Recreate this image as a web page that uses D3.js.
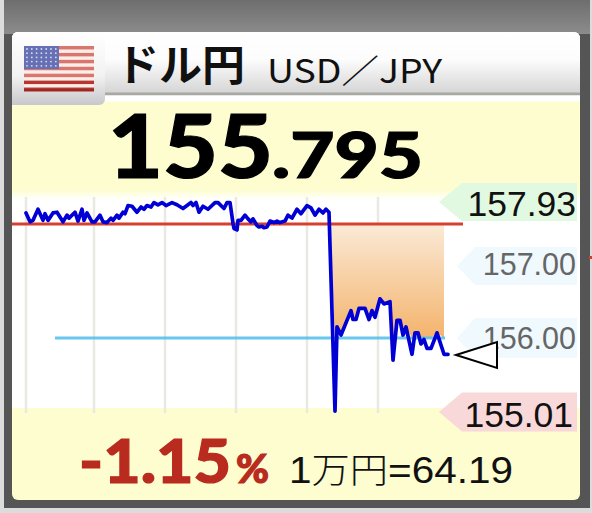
<!DOCTYPE html>
<html><head><meta charset="utf-8">
<style>html,body{margin:0;padding:0;background:#ddd}svg{display:block}</style>
<script src="https://cdn.jsdelivr.net/npm/d3@7"></script></head>
<body><svg id="c" width="592" height="513"></svg>
<script>
// elapsed time (chart units) and USD/JPY price
const times=[0,4,7,12,17,19,22,27,31,37,41,43,49,52,56,58,61,66,69,74,77,81,85,87,91,93,97,99,102,106,111,115,118,121,125,128,132,136,140,146,151,157,165,167,170,173,177,182,189,192,198,201,204,207,208,211,212,215,219,222,225,227,231,233,236,238,241,244,248,251,254,259,262,266,271,275,281,285,289,293,297,300,303,309,311,315,325,327,330,333,339,343,346,349,354,358,364,367,371,374,377,380,386,389,392,395,398,401,405,411,418,422];
const prices=[157.69,157.57,157.59,157.74,157.59,157.68,157.59,157.69,157.70,157.57,157.66,157.62,157.70,157.58,157.74,157.59,157.69,157.57,157.57,157.66,157.57,157.56,157.62,157.59,157.66,157.62,157.70,157.68,157.79,157.78,157.70,157.77,157.74,157.79,157.77,157.83,157.80,157.83,157.79,157.83,157.80,157.75,157.83,157.79,157.83,157.70,157.78,157.74,157.83,157.83,157.75,157.83,157.83,157.55,157.48,157.46,157.59,157.59,157.66,157.61,157.57,157.61,157.52,157.50,157.51,157.49,157.50,157.58,157.56,157.58,157.56,157.58,157.66,157.62,157.74,157.68,157.79,157.76,157.66,157.74,157.69,157.74,157.70,155.01,156.15,156.04,156.37,156.25,156.25,156.40,156.40,156.25,156.37,156.28,156.53,156.46,156.49,155.70,156.24,156.24,156.04,156.15,155.78,156.07,156.07,155.92,155.98,155.86,155.86,156.07,155.78,155.78];
const gridTimes=[0,68,139,210,281,352];
const prevClose=157.54, refLevel=156.00, shadeFrom=303, shadeTo=418;
const levelLabels=["157.93","157.00","156.00","155.01"];
const levelValues=[157.93,157.00,156.00,155.01];
const lastPrice="155.795", changePct="-1.15", perMan="64.19";

const svg=d3.select("#c"), defs=svg.append("defs");
const x=d3.scaleLinear().domain([0,422]).range([26,448]);
const y=d3.scaleLinear().domain([155,158]).range([412,190]);
const sans="'Liberation Sans',Arial,sans-serif", jp="'Noto Sans CJK JP',sans-serif", lato="Lato,sans-serif";
function grad(id,stops){const g=defs.append("linearGradient").attr("id",id).attr("x1",0).attr("y1",0).attr("x2",0).attr("y2",1);
 stops.forEach(s=>g.append("stop").attr("offset",s[0]).attr("stop-color",s[1]));}
grad("frame",[[0,"#6e6e6e"],[1,"#8c8c8c"]]);
grad("head",[[0,"#fff"],[.45,"#fcfcfc"],[1,"#d4d4d4"]]);
grad("tab",[[0,"#fff"],[.6,"#f2f2f2"],[1,"#c8c8cc"]]);
grad("whiteTop",[[0,"#fdfdd0"],[1,"#fff"]]);
grad("orange",[[0,"#fbf0e2"],[1,"#f4b36c"]]);

// frame
svg.append("rect").attr("width",592).attr("height",513).attr("fill","#dcdcdc");
svg.append("rect").attr("x",4).attr("width",586).attr("height",508).attr("fill","#555");
svg.append("rect").attr("x",4).attr("width",586).attr("height",34).attr("fill","url(#frame)");
svg.append("rect").attr("x",589).attr("y",256).attr("width",3).attr("height",3).attr("fill","#d04030");
// card
svg.append("rect").attr("x",12).attr("y",32).attr("width",568).attr("height",468).attr("rx",6).attr("fill","#fdfdd0");
svg.append("path").attr("d","M12 94V38a6 6 0 0 1 6-6H574a6 6 0 0 1 6 6V94Z").attr("fill","url(#head)");
svg.append("rect").attr("x",105).attr("y",92.5).attr("width",475).attr("height",3).attr("fill","#a8a8a8");
svg.append("rect").attr("x",105).attr("y",95.5).attr("width",475).attr("height",6).attr("fill","#fff");
svg.append("path").attr("d","M12 38a6 6 0 0 1 6-6H105V99a6 6 0 0 1-6 6H12Z").attr("fill","url(#tab)");
// flag
const fx=24,fy=46,fw=70,fh=45,sh=fh/13;
svg.append("rect").attr("x",fx).attr("y",fy).attr("width",fw).attr("height",fh).attr("rx",2).attr("fill","#fbeee8");
d3.range(0,13,2).forEach(i=>svg.append("rect").attr("x",fx).attr("y",fy+i*sh).attr("width",fw).attr("height",sh).attr("fill",i>9?"#b5372f":"#d9776e"));
svg.append("rect").attr("x",fx).attr("y",fy).attr("width",35).attr("height",23).attr("fill","#6670b4");
d3.range(5).forEach(r=>d3.range(7).forEach(c=>svg.append("circle").attr("cx",fx+3+c*4.8).attr("cy",fy+3+r*4.2).attr("r",.9).attr("fill","#d8dbf0")));
svg.append("rect").attr("x",fx).attr("y",fy+fh-2).attr("width",fw).attr("height",2.5).attr("fill","#9c2a24");
// titles
svg.append("text").attr("x",116).attr("y",81).attr("font-family",jp).attr("font-weight",700).attr("font-size",43).attr("fill","#111").text("ドル円");
svg.append("text").attr("x",267).attr("y",83).attr("font-family",jp).attr("font-size",33).attr("textLength",175).attr("lengthAdjust","spacingAndGlyphs").attr("fill","#111").text("USD／JPY");
// price
const bigText=(s,xp,yp,fsz,len,col)=>svg.append("text").attr("x",xp).attr("y",yp).attr("font-family",lato).attr("font-weight",900).attr("font-size",fsz).attr("textLength",len).attr("lengthAdjust","spacingAndGlyphs").attr("fill",col).attr("stroke",col).attr("stroke-width",1.2).text(s);
bigText(lastPrice.slice(0,3),108,178,88,165,"#000");
bigText(lastPrice.slice(3),272,178,62,151,"#000");
// chart background
svg.append("rect").attr("x",12).attr("y",190).attr("width",568).attr("height",10).attr("fill","url(#whiteTop)");
svg.append("rect").attr("x",12).attr("y",200).attr("width",568).attr("height",208).attr("fill","#fff");
// grid
svg.append("g").selectAll("line").data(gridTimes).join("line").attr("x1",d=>x(d)).attr("x2",d=>x(d)).attr("y1",197).attr("y2",413).attr("stroke","#e9e9e2").attr("stroke-width",2.5);
// shaded area
const shade=times.map((t,i)=>[t,prices[i]]).filter(d=>d[0]>=shadeFrom&&d[0]<=shadeTo);
svg.append("path").datum(shade).attr("fill","url(#orange)")
 .attr("d",d3.area().x(d=>x(d[0])).y0(y(prevClose)).y1(d=>y(Math.max(d[1],refLevel)))(shade));
// label tags
const tagFill=["#e0f9e0","#eff9fe","#eff9fe","#f8d8d8"], tagTip=[439,457,457,439], tagCorner=[462,475,475,462];
const tagY=[202,266,338,412], tagHalf=[19,19,20,19.5], base=[216,275,349,427], fs=[35.5,30.5,30.5,35.5], tc=["#111","#666","#666","#111"];
levelLabels.forEach((s,i)=>{
 svg.append("path").attr("d",`M${tagTip[i]} ${tagY[i]}L${tagCorner[i]} ${tagY[i]-tagHalf[i]}H577V${tagY[i]+tagHalf[i]}H${tagCorner[i]}Z`).attr("fill",tagFill[i]);
 svg.append("text").attr("x",i==3?573:576).attr("y",base[i]).attr("text-anchor","end").attr("font-family",sans).attr("font-size",fs[i]).attr("fill",tc[i]).text(s);
});
// ref lines
svg.append("line").attr("x1",55).attr("x2",445).attr("y1",y(refLevel)).attr("y2",y(refLevel)).attr("stroke","#4fbdea").attr("stroke-opacity",.85).attr("stroke-width",3);
svg.append("line").attr("x1",12).attr("x2",463).attr("y1",y(prevClose)).attr("y2",y(prevClose)).attr("stroke","#d5402f").attr("stroke-width",3);
// price line
svg.append("path").attr("fill","none").attr("stroke","#0000d4").attr("stroke-width",3.7).attr("stroke-linejoin","round").attr("stroke-linecap","round")
 .attr("d",d3.line().x((d,i)=>x(times[i])).y(d=>y(d))(prices));
// marker
svg.append("path").attr("d","M456 355L497 342V368Z").attr("fill","#fff").attr("stroke","#000").attr("stroke-width",2);
// bottom text
bigText(changePct,79,483,60,152,"#b92b1f");
bigText("%",236,483,40,33,"#b92b1f");
const rt=svg.append("text").attr("x",289).attr("y",483).attr("font-size",37).attr("fill","#111").attr("textLength",224).attr("lengthAdjust","spacingAndGlyphs");
rt.append("tspan").attr("font-family",sans).text("1");
rt.append("tspan").attr("font-family",jp).attr("font-weight",300).attr("font-size",35).text("万円");
rt.append("tspan").attr("font-family",sans).text("="+perMan);
</script></body></html>
